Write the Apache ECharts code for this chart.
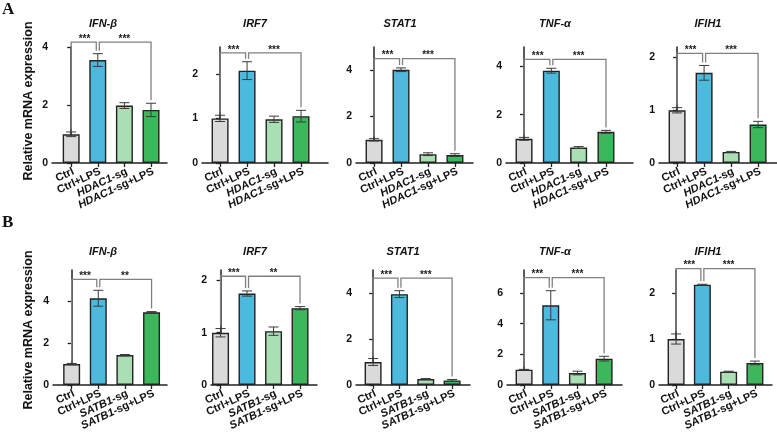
<!DOCTYPE html>
<html>
<head>
<meta charset="utf-8">
<title>Relative mRNA expression</title>
<script src="https://cdn.jsdelivr.net/npm/echarts@6/dist/echarts.min.js"></script>
<style>
    html, body { margin: 0; padding: 0; background: #fff; }
    #main { width: 777px; height: 439px; }
</style>
</head>
<body>
<div id="main"></div>
<script>
    // genes shown in each row
    var genes = ['IFN-β', 'IRF7', 'STAT1', 'TNF-α', 'IFIH1'];
    var groupsA = ['Ctrl', 'Ctrl+LPS', 'HDAC1-sg', 'HDAC1-sg+LPS'];
    var groupsB = ['Ctrl', 'Ctrl+LPS', 'SATB1-sg', 'SATB1-sg+LPS'];

    // row A (HDAC1), one line per gene
    var meanA = [
        [0.99, 3.55, 1.98, 1.83],
        [1.00, 2.07, 0.98, 1.05],
        [1.00, 4.02, 0.38, 0.34],
        [1.00, 3.82, 0.64, 1.29],
        [1.00, 1.71, 0.21, 0.73]
    ];
    var errA = [
        [0.08, 0.22, 0.10, 0.23],
        [0.07, 0.20, 0.07, 0.13],
        [0.05, 0.08, 0.06, 0.06],
        [0.06, 0.10, 0.04, 0.06],
        [0.05, 0.14, 0.01, 0.06]
    ];
    var starsA = [['***', '***'], ['***', '***'], ['***', '***'], ['***', '***'], ['***', '***']];

    // row B (SATB1)
    var meanB = [
        [1.00, 4.15, 1.43, 3.48],
        [1.00, 1.75, 1.03, 1.47],
        [1.00, 3.95, 0.26, 0.20],
        [1.00, 5.20, 0.78, 1.72],
        [1.00, 2.18, 0.29, 0.48]
    ];
    var errB = [
        [0.03, 0.38, 0.03, 0.03],
        [0.08, 0.05, 0.08, 0.03],
        [0.15, 0.15, 0.02, 0.04],
        [0.02, 0.95, 0.12, 0.15],
        [0.11, 0.01, 0.01, 0.04]
    ];
    var starsB = [['***', '**'], ['***', '**'], ['***', '***'], ['***', '***'], ['***', '***']];

    // y axis ticks and ranges
    var yTicksA = [[0, 2, 4], [0, 1, 2], [0, 2, 4], [0, 2, 4], [0, 1, 2]];
    var yTicksB = [[0, 2, 4], [0, 1, 2], [0, 2, 4], [0, 2, 4, 6], [0, 1, 2]];
    var yMaxA = [4, 2.6, 5, 4.8, 2.2];
    var yMaxB = [5.5, 2.2, 5, 7.5, 2.5];

    var barColors = ['#dadada', '#4db9dc', '#a9dfb2', '#3cb75b'];
    var font = '"Liberation Sans", Arial, sans-serif';

    // panel placement (px) and bracket height (data units)
    var layoutA = [
        {left: 52, width: 115, xmin: -0.72, xmax: 3.6, br: 4.17, tx: 103},
        {left: 202, width: 126, xmin: -0.67, xmax: 4.0, br: 2.47, tx: 255},
        {left: 356, width: 117, xmin: -0.67, xmax: 3.67, br: 4.5, tx: 400},
        {left: 506, width: 127, xmin: -0.66, xmax: 3.99, br: 4.29, tx: 555},
        {left: 659, width: 118, xmin: -0.67, xmax: 3.7, br: 2.08, tx: 708}
    ];
    var layoutB = [
        {left: 53, width: 114, xmin: -0.7, xmax: 3.58, br: 5.05, tx: 103},
        {left: 211, width: 106, xmin: -0.36, xmax: 3.64, br: 2.08, tx: 255},
        {left: 356, width: 114, xmin: -0.65, xmax: 3.68, br: 4.65, tx: 403},
        {left: 507, width: 115, xmin: -0.64, xmax: 3.67, br: 7.0, tx: 555},
        {left: 659, width: 113, xmin: -0.65, xmax: 3.65, br: 2.53, tx: 708}
    ];

    var grids = [], xAxes = [], yAxes = [], series = [], graphics = [];

    function labelFmt(names) {
        return function (v) {
            var s = names[Math.round(v)] || '';
            var m = s.match(/^(HDAC1|SATB1)(.*)$/);
            return m ? '{i|' + m[1] + '}' + m[2] : s;
        };
    }

    function errRender(params, api) {
        var lo = api.coord([api.value(0), api.value(1)]);
        var hi = api.coord([api.value(0), api.value(2)]);
        var c = 5;
        var st = {stroke: '#3a3a3a', lineWidth: 1};
        return {
            type: 'group',
            children: [
                {type: 'line', shape: {x1: lo[0], y1: lo[1], x2: hi[0], y2: hi[1]}, style: st},
                {type: 'line', shape: {x1: lo[0] - c, y1: lo[1], x2: lo[0] + c, y2: lo[1]}, style: st},
                {type: 'line', shape: {x1: hi[0] - c, y1: hi[1], x2: hi[0] + c, y2: hi[1]}, style: st}
            ]
        };
    }

    function bracketRender(means, errs, level, stars) {
        return function (params, api) {
            var yl = api.coord([0, level])[1];
            var p = [0, 1, 3].map(function (i) { return api.coord([i, means[i] + errs[i]]); });
            var gap = 3;
            var ls = {stroke: '#808080', lineWidth: 1.3, fill: null};
            var ts = {fill: '#222', font: 'bold 10px ' + font, align: 'center', verticalAlign: 'middle'};
            return {
                type: 'group',
                children: [
                    {type: 'polyline', shape: {points: [[p[0][0], p[0][1] - gap], [p[0][0], yl], [p[1][0] - 1.5, yl], [p[1][0] - 1.5, p[1][1] - gap]]}, style: ls},
                    {type: 'polyline', shape: {points: [[p[1][0] + 1.5, p[1][1] - gap], [p[1][0] + 1.5, yl], [p[2][0], yl], [p[2][0], p[2][1] - gap]]}, style: ls},
                    {type: 'text', x: (p[0][0] + p[1][0]) / 2, y: yl - 3, style: Object.assign({text: stars[0]}, ts)},
                    {type: 'text', x: (p[1][0] + p[2][0]) / 2, y: yl - 3, style: Object.assign({text: stars[1]}, ts)}
                ]
            };
        };
    }

    function addRow(layout, top, height, names, means, errs, stars, yTicks, yMax, titleY) {
        layout.forEach(function (l, k) {
            var idx = grids.length;
            grids.push({left: l.left, top: top, width: l.width, height: height, containLabel: false});
            xAxes.push({
                type: 'value', gridIndex: idx, min: l.xmin, max: l.xmax,
                splitLine: {show: false},
                axisLine: {show: true, lineStyle: {color: '#222', width: 1.5}},
                axisTick: {show: true, customValues: [0, 1, 2, 3], length: 4, lineStyle: {color: '#222', width: 1.3}},
                axisLabel: {
                    customValues: [0, 1, 2, 3], rotate: 25, margin: 3,
                    align: 'right', verticalAlign: 'top',
                    color: '#111', fontWeight: 'bold', fontSize: 11, fontFamily: font,
                    formatter: labelFmt(names),
                    rich: {i: {fontStyle: 'italic', fontWeight: 'bold', fontSize: 11, fontFamily: font, color: '#111'}}
                }
            });
            yAxes.push({
                type: 'value', gridIndex: idx, min: 0, max: yMax[k],
                splitLine: {show: false},
                axisLine: {show: true, lineStyle: {color: '#222', width: 1.5}},
                axisTick: {show: true, customValues: yTicks[k], length: 4, lineStyle: {color: '#222', width: 1.3}},
                axisLabel: {customValues: yTicks[k], margin: 4, color: '#111', fontWeight: 'bold', fontSize: 10.5, fontFamily: font}
            });
            series.push({
                type: 'bar', xAxisIndex: idx, yAxisIndex: idx, barWidth: 17, silent: true,
                data: means[k].map(function (v, i) { return [i, v]; }),
                itemStyle: {
                    color: function (p) { return barColors[p.dataIndex]; },
                    borderColor: '#222', borderWidth: 1.4
                }
            });
            series.push({
                type: 'custom', xAxisIndex: idx, yAxisIndex: idx, silent: true, clip: false, z: 5,
                data: means[k].map(function (v, i) { return [i, v - errs[k][i], v + errs[k][i]]; }),
                renderItem: errRender
            });
            series.push({
                type: 'custom', xAxisIndex: idx, yAxisIndex: idx, silent: true, clip: false, z: 5,
                data: [[0, l.br]],
                renderItem: bracketRender(means[k], errs[k], l.br, stars[k])
            });
            graphics.push({
                type: 'text', x: l.tx, y: titleY,
                style: {text: genes[k], font: 'italic bold 11px ' + font, fill: '#111', align: 'center', verticalAlign: 'middle'}
            });
        });
    }

    addRow(layoutA, 47, 116, groupsA, meanA, errA, starsA, yTicksA, yMaxA, 24);
    addRow(layoutB, 270, 115, groupsB, meanB, errB, starsB, yTicksB, yMaxB, 252);

    // panel letters and y axis names
    graphics.push({type: 'text', left: 2, top: 1, style: {text: 'A', font: 'bold 17px "Liberation Serif", serif', fill: '#111'}});
    graphics.push({type: 'text', left: 2, top: 214, style: {text: 'B', font: 'bold 17px "Liberation Serif", serif', fill: '#111'}});
    graphics.push({type: 'text', x: 28.5, y: 101, rotation: Math.PI / 2,
        style: {text: 'Relative mRNA expression', font: 'bold 12.5px ' + font, fill: '#111', align: 'center', verticalAlign: 'middle'}});
    graphics.push({type: 'text', x: 28.5, y: 330, rotation: Math.PI / 2,
        style: {text: 'Relative mRNA expression', font: 'bold 12.5px ' + font, fill: '#111', align: 'center', verticalAlign: 'middle'}});

    var chart = echarts.init(document.getElementById('main'), null, {renderer: 'canvas'});
    chart.setOption({
        animation: false,
        backgroundColor: '#fff',
        grid: grids,
        xAxis: xAxes,
        yAxis: yAxes,
        series: series,
        graphic: graphics
    });
</script>
</body>
</html>
